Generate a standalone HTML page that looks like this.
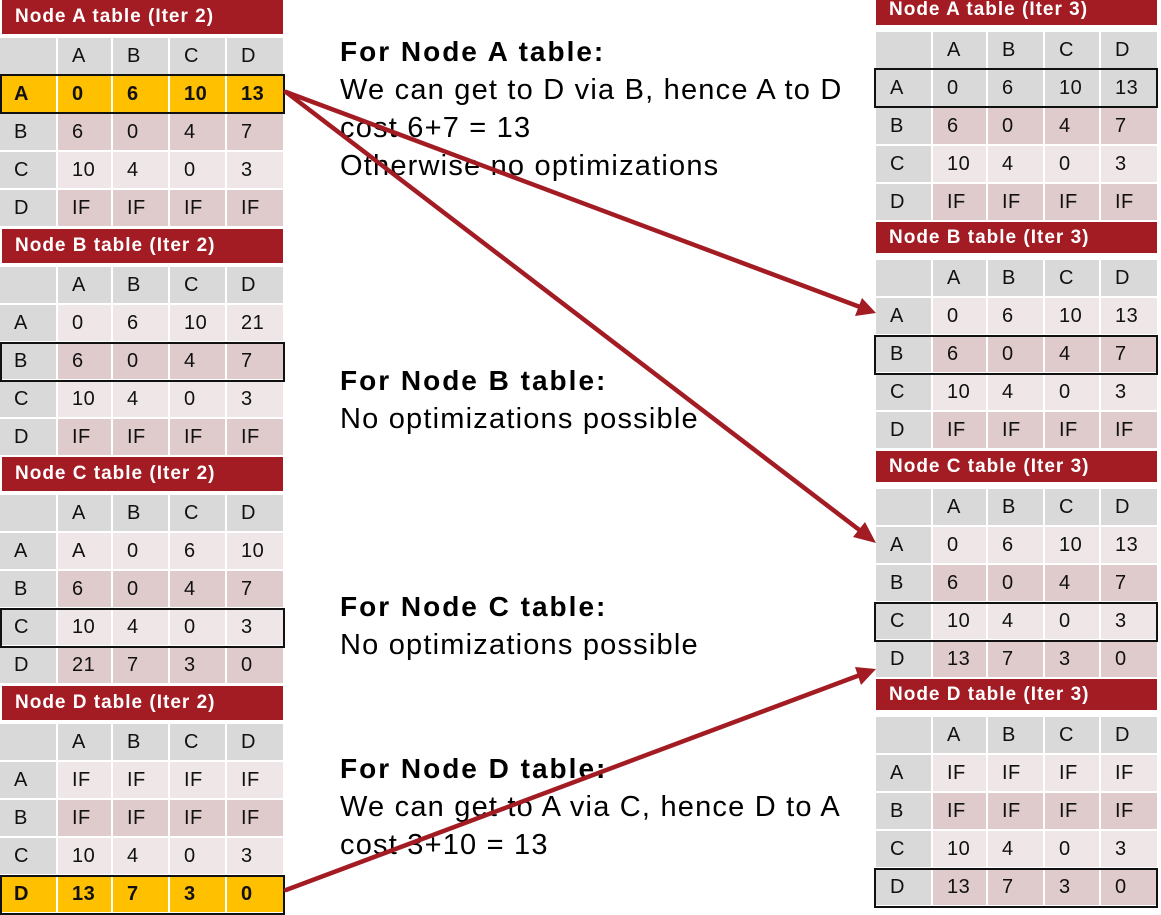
<!DOCTYPE html>
<html><head><meta charset="utf-8"><style>
*{margin:0;padding:0;box-sizing:border-box}
body{width:1161px;height:910px;background:#fff;position:relative;overflow:hidden;font-family:"Liberation Sans",sans-serif}
.b{position:absolute;width:285px}
.t{position:absolute;left:2px;top:0;width:281px;height:34px;background:#A31B23;color:#fff;font-weight:bold;font-size:19px;letter-spacing:1px;line-height:34px;padding-left:13px}
.r .t{left:0;height:31px;line-height:31px}
.gr{position:absolute;top:38px;left:0;display:grid;grid-template-columns:56px 53px 55px 55px 56px;grid-auto-rows:36px;gap:2px}
.r .gr{grid-template-columns:55px 53px 55px 54px 56px}
.gr div{font-size:20px;letter-spacing:0.5px;line-height:36px;padding-left:14px;color:#111}
.g{background:#D9D9D9}.l{background:#EFE7E7}.d{background:#E0CBCC}.o{background:#FFC000;font-weight:bold}
.f{position:absolute;left:0;width:285px;height:40px;border:2px solid #111}
.r .f{left:-2px;width:284px}
.tx{position:absolute;left:340px;font-size:29px;letter-spacing:1.2px;line-height:38px;color:#000;white-space:nowrap}
.tx b{font-size:28px;letter-spacing:2px}
svg{position:absolute;left:0;top:0}
</style></head><body>

<!-- LEFT -->
<div class="b" style="left:0;top:0">
<div class="t">Node A table (Iter 2)</div>
<div class="gr">
<div class="g"></div><div class="g">A</div><div class="g">B</div><div class="g">C</div><div class="g">D</div>
<div class="o">A</div><div class="o">0</div><div class="o">6</div><div class="o">10</div><div class="o">13</div>
<div class="g">B</div><div class="d">6</div><div class="d">0</div><div class="d">4</div><div class="d">7</div>
<div class="g">C</div><div class="l">10</div><div class="l">4</div><div class="l">0</div><div class="l">3</div>
<div class="g">D</div><div class="d">IF</div><div class="d">IF</div><div class="d">IF</div><div class="d">IF</div>
</div>
<div class="f" style="top:74px"></div>
</div>

<div class="b" style="left:0;top:229px">
<div class="t">Node B table (Iter 2)</div>
<div class="gr">
<div class="g"></div><div class="g">A</div><div class="g">B</div><div class="g">C</div><div class="g">D</div>
<div class="g">A</div><div class="l">0</div><div class="l">6</div><div class="l">10</div><div class="l">21</div>
<div class="g">B</div><div class="d">6</div><div class="d">0</div><div class="d">4</div><div class="d">7</div>
<div class="g">C</div><div class="l">10</div><div class="l">4</div><div class="l">0</div><div class="l">3</div>
<div class="g">D</div><div class="d">IF</div><div class="d">IF</div><div class="d">IF</div><div class="d">IF</div>
</div>
<div class="f" style="top:113px"></div>
</div>

<div class="b" style="left:0;top:457px">
<div class="t">Node C table (Iter 2)</div>
<div class="gr">
<div class="g"></div><div class="g">A</div><div class="g">B</div><div class="g">C</div><div class="g">D</div>
<div class="g">A</div><div class="l">A</div><div class="l">0</div><div class="l">6</div><div class="l">10</div>
<div class="g">B</div><div class="d">6</div><div class="d">0</div><div class="d">4</div><div class="d">7</div>
<div class="g">C</div><div class="l">10</div><div class="l">4</div><div class="l">0</div><div class="l">3</div>
<div class="g">D</div><div class="d">21</div><div class="d">7</div><div class="d">3</div><div class="d">0</div>
</div>
<div class="f" style="top:151px"></div>
</div>

<div class="b" style="left:0;top:686px">
<div class="t">Node D table (Iter 2)</div>
<div class="gr">
<div class="g"></div><div class="g">A</div><div class="g">B</div><div class="g">C</div><div class="g">D</div>
<div class="g">A</div><div class="l">IF</div><div class="l">IF</div><div class="l">IF</div><div class="l">IF</div>
<div class="g">B</div><div class="d">IF</div><div class="d">IF</div><div class="d">IF</div><div class="d">IF</div>
<div class="g">C</div><div class="l">10</div><div class="l">4</div><div class="l">0</div><div class="l">3</div>
<div class="o">D</div><div class="o">13</div><div class="o">7</div><div class="o">3</div><div class="o">0</div>
</div>
<div class="f" style="top:189px"></div>
</div>

<!-- RIGHT -->
<div class="b r" style="left:876px;top:-6px">
<div class="t">Node A table (Iter 3)</div>
<div class="gr">
<div class="g"></div><div class="g">A</div><div class="g">B</div><div class="g">C</div><div class="g">D</div>
<div class="g">A</div><div class="g">0</div><div class="g">6</div><div class="g">10</div><div class="g">13</div>
<div class="g">B</div><div class="d">6</div><div class="d">0</div><div class="d">4</div><div class="d">7</div>
<div class="g">C</div><div class="l">10</div><div class="l">4</div><div class="l">0</div><div class="l">3</div>
<div class="g">D</div><div class="d">IF</div><div class="d">IF</div><div class="d">IF</div><div class="d">IF</div>
</div>
<div class="f" style="top:74px"></div>
</div>

<div class="b r" style="left:876px;top:222px">
<div class="t">Node B table (Iter 3)</div>
<div class="gr">
<div class="g"></div><div class="g">A</div><div class="g">B</div><div class="g">C</div><div class="g">D</div>
<div class="g">A</div><div class="l">0</div><div class="l">6</div><div class="l">10</div><div class="l">13</div>
<div class="g">B</div><div class="d">6</div><div class="d">0</div><div class="d">4</div><div class="d">7</div>
<div class="g">C</div><div class="l">10</div><div class="l">4</div><div class="l">0</div><div class="l">3</div>
<div class="g">D</div><div class="d">IF</div><div class="d">IF</div><div class="d">IF</div><div class="d">IF</div>
</div>
<div class="f" style="top:113px"></div>
</div>

<div class="b r" style="left:876px;top:451px">
<div class="t">Node C table (Iter 3)</div>
<div class="gr">
<div class="g"></div><div class="g">A</div><div class="g">B</div><div class="g">C</div><div class="g">D</div>
<div class="g">A</div><div class="l">0</div><div class="l">6</div><div class="l">10</div><div class="l">13</div>
<div class="g">B</div><div class="d">6</div><div class="d">0</div><div class="d">4</div><div class="d">7</div>
<div class="g">C</div><div class="l">10</div><div class="l">4</div><div class="l">0</div><div class="l">3</div>
<div class="g">D</div><div class="d">13</div><div class="d">7</div><div class="d">3</div><div class="d">0</div>
</div>
<div class="f" style="top:151px"></div>
</div>

<div class="b r" style="left:876px;top:679px">
<div class="t">Node D table (Iter 3)</div>
<div class="gr">
<div class="g"></div><div class="g">A</div><div class="g">B</div><div class="g">C</div><div class="g">D</div>
<div class="g">A</div><div class="l">IF</div><div class="l">IF</div><div class="l">IF</div><div class="l">IF</div>
<div class="g">B</div><div class="d">IF</div><div class="d">IF</div><div class="d">IF</div><div class="d">IF</div>
<div class="g">C</div><div class="l">10</div><div class="l">4</div><div class="l">0</div><div class="l">3</div>
<div class="g">D</div><div class="d">13</div><div class="d">7</div><div class="d">3</div><div class="d">0</div>
</div>
<div class="f" style="top:189px"></div>
</div>

<!-- TEXT -->
<div class="tx" style="top:33px"><b>For Node A table:</b><br>We can get to D via B, hence A to D<br>cost 6+7 = 13<br>Otherwise no optimizations</div>
<div class="tx" style="top:362px"><b>For Node B table:</b><br>No optimizations possible</div>
<div class="tx" style="top:588px"><b>For Node C table:</b><br>No optimizations possible</div>
<div class="tx" style="top:750px"><b>For Node D table:</b><br>We can get to A via C, hence D to A<br>cost 3+10 = 13</div>

<svg width="1161" height="910" viewBox="0 0 1161 910">
<g stroke="#A31B23" stroke-width="4.5" fill="none" stroke-linecap="round">
<line x1="286" y1="92" x2="860" y2="307"/>
<line x1="286" y1="92" x2="862" y2="532"/>
<line x1="286" y1="890" x2="860" y2="675"/>
</g>
<g fill="#A31B23">
<polygon points="876,313 855,316 862,298"/>
<polygon points="876,543 853,537 865,522"/>
<polygon points="876,669 861,685 855,667"/>
</g>
</svg>
</body></html>
